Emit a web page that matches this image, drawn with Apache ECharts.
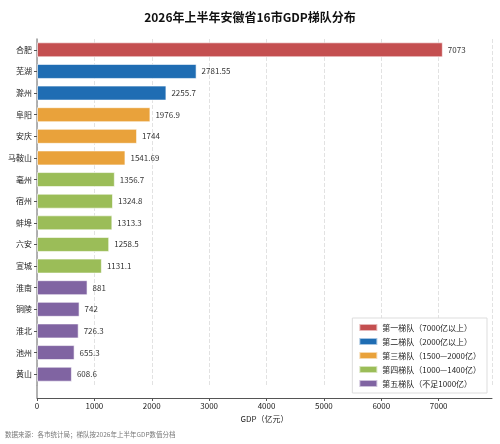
<!DOCTYPE html>
<html><head><meta charset="utf-8">
<script src="https://cdn.jsdelivr.net/npm/echarts@6/dist/echarts.min.js"></script>
<style>html,body{margin:0;background:#fff}#c{width:500px;height:444px}</style>
</head><body><div id="c"></div>
<script>
const cities = ['合肥','芜湖','滁州','阜阳','安庆','马鞍山','亳州','宿州','蚌埠','六安','宣城','淮南','铜陵','淮北','池州','黄山'];
const gdp = [7073,2781.55,2255.7,1976.9,1744,1541.69,1356.7,1324.8,1313.3,1258.5,1131.1,881,742,726.3,655.3,608.6];
const tier = [0,1,1,2,2,2,3,3,3,3,3,4,4,4,4,4];
const tierNames = ['第一梯队（7000亿以上）','第二梯队（2000亿以上）','第三梯队（1500—2000亿）','第四梯队（1000—1400亿）','第五梯队（不足1000亿）'];
const tierColors = ['#c44f50','#1f6db3','#e9a23b','#9bbd58','#8064a2'];

const font = '"Noto Sans CJK SC", "Noto Sans", sans-serif';
const chart = echarts.init(document.getElementById('c'));
const series = tierNames.map((name, t) => ({
  name, type: 'bar', stack: 'all', barWidth: 15,
  itemStyle: { color: tierColors[t], borderColor: 'rgba(255,255,255,0.6)', borderWidth: 1 },
  label: { show: true, position: 'right', distance: 5, fontSize: 8, color: '#333', fontFamily: font },
  data: gdp.map((v, i) => tier[i] === t ? v : '-')
}));
chart.setOption({
  animation: false,
  textStyle: { fontFamily: font },
  title: { text: '2026年上半年安徽省16市GDP梯队分布', left: 'center', top: 6,
    textStyle: { fontSize: 12, fontWeight: 'bold', color: '#111', fontFamily: font } },
  grid: { left: 37, right: 8, top: 39, bottom: 59 },
  legend: {
    orient: 'vertical', right: 13, bottom: 51, itemWidth: 18, itemHeight: 7, itemGap: 5,
    padding: [5, 6], borderColor: '#ddd', borderWidth: 1, backgroundColor: 'rgba(255,255,255,0.9)',
    textStyle: { fontSize: 8, color: '#222', fontFamily: font }, icon: 'rect'
  },
  xAxis: {
    type: 'value', min: 0, max: 7930, interval: 1000, offset: 13,
    name: 'GDP（亿元）', nameLocation: 'middle', nameGap: 14,
    nameTextStyle: { fontSize: 8, color: '#222' },
    axisLine: { show: true, lineStyle: { color: '#555' } },
    axisTick: { show: true, length: 3, lineStyle: { color: '#555' } },
    axisLabel: { fontSize: 8, color: '#222', margin: 4, showMaxLabel: false, formatter: v => String(v) },
    splitLine: { show: true, lineStyle: { color: '#e2e2e2', type: 'dashed' } }
  },
  yAxis: {
    type: 'category', inverse: true, data: cities,
    axisLine: { show: true, lineStyle: { color: '#999', width: 1.5 } },
    axisTick: { show: true, alignWithLabel: true, length: 3, lineStyle: { color: '#555' } },
    axisLabel: { fontSize: 8, color: '#222', margin: 5 }
  },
  graphic: [
    { type: 'line', shape: { x1: 37, y1: 385, x2: 37, y2: 398 }, style: { stroke: '#999', lineWidth: 1.5 }, silent: true },
    { type: 'text', left: 5, top: 431, style: { text: '数据来源：各市统计局；梯队按2026年上半年GDP数值分档', fontSize: 6.5, fill: '#777', fontFamily: font } }
  ],
  series
});
</script></body></html>
